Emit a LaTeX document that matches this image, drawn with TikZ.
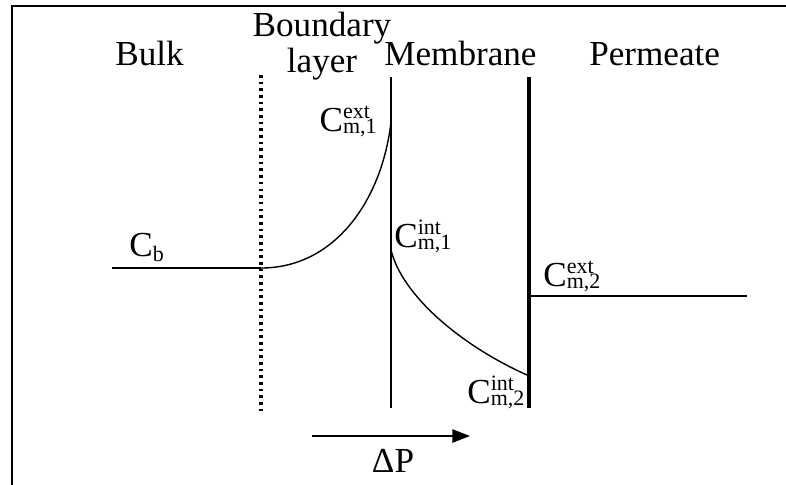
\documentclass[tikz,border=0pt]{standalone}
\usepackage{fontspec}
\setmainfont{Liberation Serif}
\usetikzlibrary{positioning, arrows.meta}
\newcommand{\idxfont}{\fontsize{12.5}{12.5}\selectfont}
\newcommand{\conc}[2]{C\raisebox{-1.2pt}{\rlap{\raisebox{8.6pt}{\idxfont #1}}\idxfont #2}}

\begin{document}
\begin{tikzpicture}[
      x=0.02cm, y=-0.02cm,
      every node/.style={font=\fontsize{20}{20.4}\selectfont, inner sep=0pt, align=center},
      wall/.style={line width=1.1pt},
      thickwall/.style={line width=2.6pt},
      profile/.style={line width=0.8pt},
      layeredge/.style={line width=2pt, dash pattern=on 1.5pt off 2.3pt}
    ]
    \useasboundingbox (0,0) rectangle (786,484);
    \draw[line width=1.2pt] (12,490) |- (792,6);

    % region titles
    \node (bulk) [anchor=base west] at (115,65) {Bulk};
    \node (boundary) [anchor=base] at (322,72) {Boundary\\layer};
    \node (membrane) [anchor=base west] at (384,65) {Membrane};
    \node (permeate) [base right=1.04cm of membrane] {Permeate};

    % concentrations
    \node (cb) [anchor=base west] at (129,256) {C\raisebox{-3.4pt}{\idxfont b}};
    \node (cext1) [anchor=base east] at (377,131) {\conc{ext}{m,1}};
    \node (cint1) [anchor=base west] at (394,247) {\conc{int}{m,1}};
    \node (cext2) [anchor=base west] at (543,286) {\conc{ext}{m,2}};
    \node (cint2) [anchor=base west] at (467,403) {\conc{int}{m,2}};

    % walls
    \coordinate (bltop) at (261,75);
    \coordinate (blbot) at (261,415);
    \coordinate (m1top) at (391,77);
    \coordinate (m1bot) at (391,408);
    \coordinate (m2top) at (529,77);
    \coordinate (m2bot) at (529,408);
    \draw[layeredge] (bltop) -- (blbot);
    \draw[wall] (m1top) -- (m1bot);
    \draw[thickwall] (m2top) -- (m2bot);

    % profile
    \coordinate (bstart) at (112,268);
    \coordinate (bend) at (261,268);
    \coordinate (ext1) at (391,122);
    \coordinate (int1) at (391,250);
    \coordinate (int2) at (527,375);
    \coordinate (ext2) at (531,296);
    \coordinate (pend) at (747,296);
    \draw[profile, line width=1pt] (bstart) -- (bend);
    \draw[profile] (bend) .. controls (335,268) and (382,200) .. (ext1);
    \draw[profile] (int1) .. controls (402,295) and (460,345) .. (int2);
    \draw[profile, line width=1pt] (ext2) -- (pend);

    % pressure
    \coordinate (ptail) at (312,436);
    \coordinate (phead) at (470,436);
    \draw[line width=1.1pt, -{Triangle[length=10pt, width=7.5pt]}] (ptail) -- (phead);
    \node (dp) [anchor=base] at (393,472) {ΔP};
  \end{tikzpicture}
\end{document}
